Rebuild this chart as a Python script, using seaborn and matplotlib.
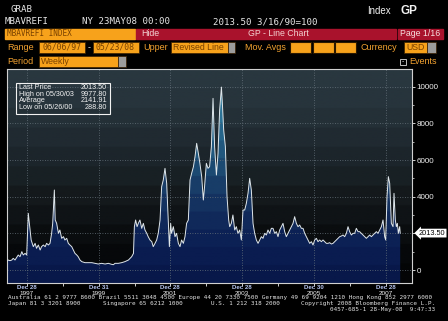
import numpy as np
import pandas as pd
import matplotlib
matplotlib.use("Agg")
import matplotlib.pyplot as plt
import matplotlib.patches as mpatches
import matplotlib.transforms as mtrans
from matplotlib.colors import ListedColormap
import seaborn as sns

# ---------------- data ----------------
week_years = [
    1997.43, 1997.47, 1997.52, 1997.57, 1997.61, 1997.66, 1997.71, 1997.75, 1997.80, 1997.85,
    1997.89, 1997.94, 1997.985, 1998.03, 1998.06, 1998.11, 1998.17, 1998.22, 1998.26, 1998.31,
    1998.36, 1998.40, 1998.45, 1998.50, 1998.54, 1998.59, 1998.635, 1998.68, 1998.71, 1998.756,
    1998.78, 1998.82, 1998.87, 1998.91, 1998.96, 1999.01, 1999.05, 1999.10, 1999.145, 1999.19,
    1999.24, 1999.285, 1999.33, 1999.38, 1999.42, 1999.47, 1999.52, 1999.61, 1999.70, 1999.80,
    1999.89, 1999.98, 2000.07, 2000.17, 2000.26, 2000.35, 2000.40, 2000.445, 2000.54, 2000.63,
    2000.72, 2000.82, 2000.91, 2000.96, 2000.985, 2001.02, 2001.06, 2001.095, 2001.14, 2001.19,
    2001.235, 2001.28, 2001.33, 2001.37, 2001.42, 2001.47, 2001.51, 2001.56, 2001.606, 2001.65,
    2001.70, 2001.745, 2001.79, 2001.838, 2001.885, 2001.93, 2001.96, 2001.996, 2002.02, 2002.07,
    2002.117, 2002.16, 2002.21, 2002.256, 2002.30, 2002.35, 2002.395, 2002.44, 2002.488, 2002.535,
    2002.58, 2002.63, 2002.674, 2002.72, 2002.767, 2002.81, 2002.86, 2002.906, 2002.94, 2002.99,
    2003.036, 2003.08, 2003.13, 2003.176, 2003.22, 2003.27, 2003.315, 2003.36, 2003.41, 2003.436,
    2003.473, 2003.52, 2003.566, 2003.612, 2003.64, 2003.686, 2003.73, 2003.78, 2003.825, 2003.87,
    2003.918, 2003.965, 2004.011, 2004.058, 2004.104, 2004.15, 2004.197, 2004.243, 2004.29, 2004.336,
    2004.383, 2004.43, 2004.475, 2004.522, 2004.568, 2004.615, 2004.661, 2004.707, 2004.754, 2004.80,
    2004.847, 2004.893, 2004.94, 2004.986, 2005.033, 2005.08, 2005.125, 2005.172, 2005.218, 2005.265,
    2005.311, 2005.358, 2005.404, 2005.45, 2005.497, 2005.543, 2005.59, 2005.636, 2005.683, 2005.729,
    2005.775, 2005.822, 2005.868, 2005.915, 2005.961, 2006.007, 2006.054, 2006.10, 2006.147, 2006.193,
    2006.24, 2006.286, 2006.333, 2006.379, 2006.425, 2006.472, 2006.518, 2006.565, 2006.61, 2006.657,
    2006.704, 2006.75, 2006.797, 2006.843, 2006.89, 2006.936, 2006.982, 2007.029, 2007.075, 2007.122,
    2007.168, 2007.215, 2007.26, 2007.307, 2007.354, 2007.40, 2007.447, 2007.493, 2007.54, 2007.586,
    2007.632, 2007.679, 2007.725, 2007.772, 2007.818, 2007.865, 2007.911, 2007.957, 2007.985, 2008.022,
    2008.06, 2008.097, 2008.143, 2008.19, 2008.217, 2008.254, 2008.282, 2008.31, 2008.338, 2008.375,
    2008.39,
]
refi_index = [
    455, 545, 509, 545, 636, 545, 691, 818, 727, 1000,
    818, 909, 818, 3091, 2545, 1636, 1273, 1454, 1182, 1364,
    1091, 1273, 1364, 1273, 1454, 1364, 1454, 2000, 2545, 4363,
    2727, 2545, 2000, 2182, 1727, 1818, 1636, 1727, 1454, 1364,
    1273, 1091, 909, 818, 727, 545, 455, 400, 400, 400,
    364, 327, 364, 327, 364, 310, 289, 364, 364, 400,
    455, 545, 727, 909, 2364, 2727, 2364, 2545, 2727, 2273,
    2545, 2182, 2000, 1818, 1636, 1545, 1273, 1454, 1636, 2000,
    2727, 4545, 4909, 5545, 4727, 2727, 1273, 2545, 2000, 2364,
    1818, 2000, 1454, 1273, 1636, 1454, 1818, 2545, 2727, 4909,
    5273, 5636, 6182, 6909, 6364, 5818, 5091, 3818, 4545, 5818,
    5545, 5636, 6727, 9363, 6727, 5182, 6364, 8727, 9978, 9091,
    7636, 6727, 4000, 2727, 2364, 2545, 3000, 2182, 2364, 2000,
    2182, 1636, 3273, 3273, 3636, 4182, 5000, 4363, 2545, 2000,
    1636, 1454, 1636, 1818, 1727, 2000, 1909, 2182, 2000, 2273,
    2273, 2000, 2091, 1818, 2182, 2364, 2545, 2091, 1818, 2000,
    2182, 2364, 2545, 2909, 2545, 2364, 2454, 2273, 2273, 2000,
    1818, 1636, 1454, 1545, 1364, 1636, 1727, 1545, 1636, 1545,
    1636, 1545, 1454, 1454, 1491, 1418, 1454, 1545, 1636, 1727,
    1818, 1854, 1909, 1818, 2000, 2364, 2091, 1909, 2000, 2000,
    2273, 2091, 2091, 2000, 1909, 1818, 1727, 1818, 1909, 1818,
    1909, 2000, 2091, 2000, 2182, 2364, 2727, 1818, 1636, 4000,
    5091, 4727, 2545, 2364, 4182, 2727, 2364, 2545, 2000, 2364,
    2013.5,
]

x_tick_years = [1997.986, 1999.997, 2001.986, 2003.986, 2005.995, 2007.986]
x_tick_days = ["Dec 28", "Dec 31", "Dec 28", "Dec 28", "Dec 30", "Dec 28"]
x_tick_yrs = ["1997", "1999", "2001", "2003", "2005", "2007"]
x_minor_years = [1998.99, 2000.99, 2002.99, 2004.99, 2006.99]
y_ticks = [0, 2000, 4000, 6000, 8000, 10000]
y_tick_labels = ["0", "", "4000", "6000", "8000", "10000"]
y_minor = [1000, 3000, 5000, 7000, 9000]
stats_labels = ["Last Price", "High on 05/30/03", "Average", "Low on 05/26/00"]
stats_values = ["2013.50", "9977.80", "2141.91", "288.80"]
last_price = 2013.50

# ---------------- figure ----------------
W, H = 448, 321
fig = plt.figure(figsize=(W / 100, H / 100), dpi=100, facecolor="black")

def fx(x):
    return x / W

def fy(y):
    return 1 - y / H

def ftext(x, y, s, **kw):
    kw.setdefault("va", "center")
    fig.text(fx(x), fy(y), s, **kw)

def frect(x, y, w, h, **kw):
    fig.add_artist(mpatches.Rectangle((fx(x), fy(y + h)), w / W, h / H,
                                      transform=fig.transFigure, **kw))

MONO = "DejaVu Sans Mono"
SANS = "Liberation Sans"
ORANGE = "#f7a21b"
ORANGE_TXT = "#f3a230"
BOX_TXT = "#7a4200"
RED = "#a9122c"

# header lines
ftext(10, 9.5, "GRAB", family=MONO, size=6.6, color="#e6e6e6")
ftext(367, 10.5, "Index", family=SANS, size=7, color="#f0f0f0")
ftext(400, 10.5, "GP", family=SANS, size=8.5, weight="bold", color="#f0f0f0")
ftext(5, 22, "MBAVREFI", family=MONO, size=6.6, color="#e6e6e6")
ftext(82, 22, "NY 23MAY08 00:00", family=MONO, size=6.6, color="#e6e6e6")
ftext(213, 22, "2013.50 3/16/90=100", family=MONO, size=6.6, color="#e6e6e6")

# row 2
frect(5, 28.5, 130, 10.5, color=ORANGE)
ftext(7, 34, "MBAVREFI INDEX", family=MONO, size=5.6, color=BOX_TXT)
frect(136, 28.5, 260, 10.5, color=RED)
ftext(141, 34, "Hide", family=SANS, size=6.3, color="#f3d6d6")
ftext(278, 34, "GP - Line Chart", family=SANS, size=6.3, color="#f3d0d0", ha="center")
frect(398, 28.5, 45, 10.5, color=RED)
ftext(420.5, 34, "Page 1/16", family=SANS, size=6.3, color="#f6e0e0", ha="center")

# row 3
ftext(7, 47.5, "Range", family=SANS, size=6.5, color=ORANGE_TXT)
frect(39, 42, 46, 11, facecolor=ORANGE, edgecolor="#3a2000", linewidth=0.5)
ftext(42, 47.5, "06/06/97", family=MONO, size=5.9, color=BOX_TXT)
ftext(88, 47.5, "-", family=SANS, size=6.5, color="#e8e8e8")
frect(93, 42, 46, 11, facecolor=ORANGE, edgecolor="#3a2000", linewidth=0.5)
ftext(96, 47.5, "05/23/08", family=MONO, size=5.9, color=BOX_TXT)
ftext(143, 47.5, "Upper", family=SANS, size=6.5, color=ORANGE_TXT)
frect(171, 42, 57, 11, facecolor=ORANGE, edgecolor="#3a2000", linewidth=0.5)
frect(228, 42, 7, 11, facecolor="#9c9c9c", edgecolor="#3a2000", linewidth=0.5)
ftext(173, 47.5, "Revised Line", family=SANS, size=6.3, color=BOX_TXT)
ftext(245, 47.5, "Mov. Avgs", family=SANS, size=6.5, color=ORANGE_TXT)
for bx in (290, 312.5, 335):
    frect(bx, 42, 21, 11, facecolor=ORANGE, edgecolor="#2a1800", linewidth=0.8)
ftext(360, 47.5, "Currency", family=SANS, size=6.5, color=ORANGE_TXT)
frect(404, 42, 23, 11, facecolor=ORANGE, edgecolor="#3a2000", linewidth=0.5)
frect(427, 42, 9, 11, facecolor="#9c9c9c", edgecolor="#3a2000", linewidth=0.5)
ftext(406, 47.5, "USD", family=SANS, size=6.3, color=BOX_TXT)

# row 4
ftext(7, 61, "Period", family=SANS, size=6.5, color=ORANGE_TXT)
frect(39, 55.5, 79, 11, facecolor=ORANGE, edgecolor="#3a2000", linewidth=0.5)
frect(118, 55.5, 8, 11, facecolor="#9c9c9c", edgecolor="#3a2000", linewidth=0.5)
ftext(41, 61, "Weekly", family=SANS, size=6.3, color=BOX_TXT)
frect(400, 58.5, 6, 6, facecolor="black", edgecolor="#dddddd", linewidth=0.6)
ftext(403, 61.5, "-", family=SANS, size=5, color="#dddddd", ha="center")
ftext(409, 61, "Events", family=SANS, size=6.5, color=ORANGE_TXT)

# ---------------- plot area ----------------
XMIN, XMAX = 1997.437, 2008.71
YMIN, YMAX = -709, 10964
ax = fig.add_axes([fx(7), fy(283), fx(411.7) - fx(7), fy(69) - fy(283)])

bg_colors = ["#040506", "#06080a", "#0a0d0f", "#0f1316", "#14191c", "#182024",
             "#1c252b", "#202a31", "#243037", "#27343c", "#29373f"]
bg_cmap = ListedColormap(bg_colors)
grad = np.linspace(YMIN, YMAX, 512).reshape(-1, 1)
ax.imshow(grad, extent=[XMIN, XMAX, YMIN, YMAX], origin="lower", aspect="auto",
          cmap=bg_cmap, vmin=YMIN, vmax=YMAX, zorder=0)

fill_colors = ["#08184a", "#0a1c50", "#0c2155", "#10295a", "#143260", "#183d68",
               "#1c4a72", "#21577e", "#26658a", "#2c7396", "#3380a2", "#3a8cae"]
fill_cmap = ListedColormap(fill_colors)
poly = ax.fill_between(week_years, refi_index, YMIN, facecolor="none",
                       edgecolor="none", zorder=1)
im = ax.imshow(grad, extent=[XMIN, XMAX, YMIN, YMAX], origin="lower", aspect="auto",
               cmap=fill_cmap, vmin=YMIN, vmax=YMAX, zorder=1)
im.set_clip_path(poly.get_paths()[0], transform=ax.transData)

df = pd.DataFrame({"year": week_years, "index": refi_index})
sns.lineplot(data=df, x="year", y="index", ax=ax, color="#dfe6ea",
             linewidth=0.7, zorder=3)

ax.set_xlim(XMIN, XMAX)
ax.set_ylim(YMIN, YMAX)
ax.set_xlabel("")
ax.set_ylabel("")
ax.set_facecolor("black")

ax.set_axisbelow("line")
ax.grid(True, color="#66727b", linestyle=(0, (1, 2)), linewidth=0.6)

for sp in ax.spines.values():
    sp.set_color("#d0d0d0")
    sp.set_linewidth(0.8)

# y axis (right)
ax.yaxis.tick_right()
ax.set_yticks(y_ticks)
ax.set_yticklabels(y_tick_labels)
ax.set_yticks(y_minor, minor=True)
ax.tick_params(axis="y", which="major", colors="#f0f0f0", labelsize=5.8,
               length=2.5, width=0.6, pad=1)
ax.tick_params(axis="y", which="minor", colors="#f0f0f0", length=1.5, width=0.5)
for lab in ax.get_yticklabels():
    lab.set_family(SANS)

# x axis
ax.set_xticks(x_tick_years)
ax.set_xticklabels([""] * len(x_tick_years))
ax.set_xticks(x_minor_years, minor=True)
ax.tick_params(axis="x", which="both", colors="#f0f0f0", length=2.2, width=0.6,
               direction="out")
xtrans = mtrans.blended_transform_factory(ax.transData, ax.transAxes)
for xv, d, yr in zip(x_tick_years, x_tick_days, x_tick_yrs):
    ax.text(xv, -0.008, d, transform=xtrans, ha="center", va="top", family=SANS,
            size=4.4, color="#b7c6f2", weight="bold", clip_on=False)
    ax.text(xv, -0.036, yr, transform=xtrans, ha="center", va="top", family=SANS,
            size=4.6, color="#f0f0f0", clip_on=False)

# last price callout
ytrans = mtrans.blended_transform_factory(ax.transAxes, ax.transData)
ax.text(1.018, last_price, f"{last_price:.2f}", transform=ytrans, ha="left", va="center",
        family=SANS, size=5.3, color="black", clip_on=False, zorder=5,
        bbox=dict(boxstyle="larrow,pad=0.12", fc="white", ec="none"))

# stats box
frect(16, 82.5, 94, 31, facecolor="none", edgecolor="#f2f2f2", linewidth=0.8)
for i, (lab, val) in enumerate(zip(stats_labels, stats_values)):
    yy = 87.5 + i * 6.6
    ftext(19, yy, lab, family=SANS, size=5.2, color="#f2f2f2")
    ftext(107, yy, val, family=SANS, size=5.2, color="#f2f2f2", ha="right")

# footer
FOOT = dict(family=MONO, size=4.35, color="#e2e2e2")
ftext(8, 297.3, "Australia 61 2 9777 8600 Brazil 5511 3048 4500 Europe 44 20 7330 7500 "
      "Germany 49 69 9204 1210 Hong Kong 852 2977 6000", **FOOT)
ftext(8, 303.3, "Japan 81 3 3201 8900", **FOOT)
ftext(103, 303.3, "Singapore 65 6212 1000", **FOOT)
ftext(211, 303.3, "U.S. 1 212 318 2000", **FOOT)
ftext(300.5, 303.3, "Copyright 2008 Bloomberg Finance L.P.", **FOOT)
ftext(330, 309, "0457-685-1 28-May-08  9:47:33", **FOOT)

fig.savefig("out.png", dpi=100, facecolor="black")
